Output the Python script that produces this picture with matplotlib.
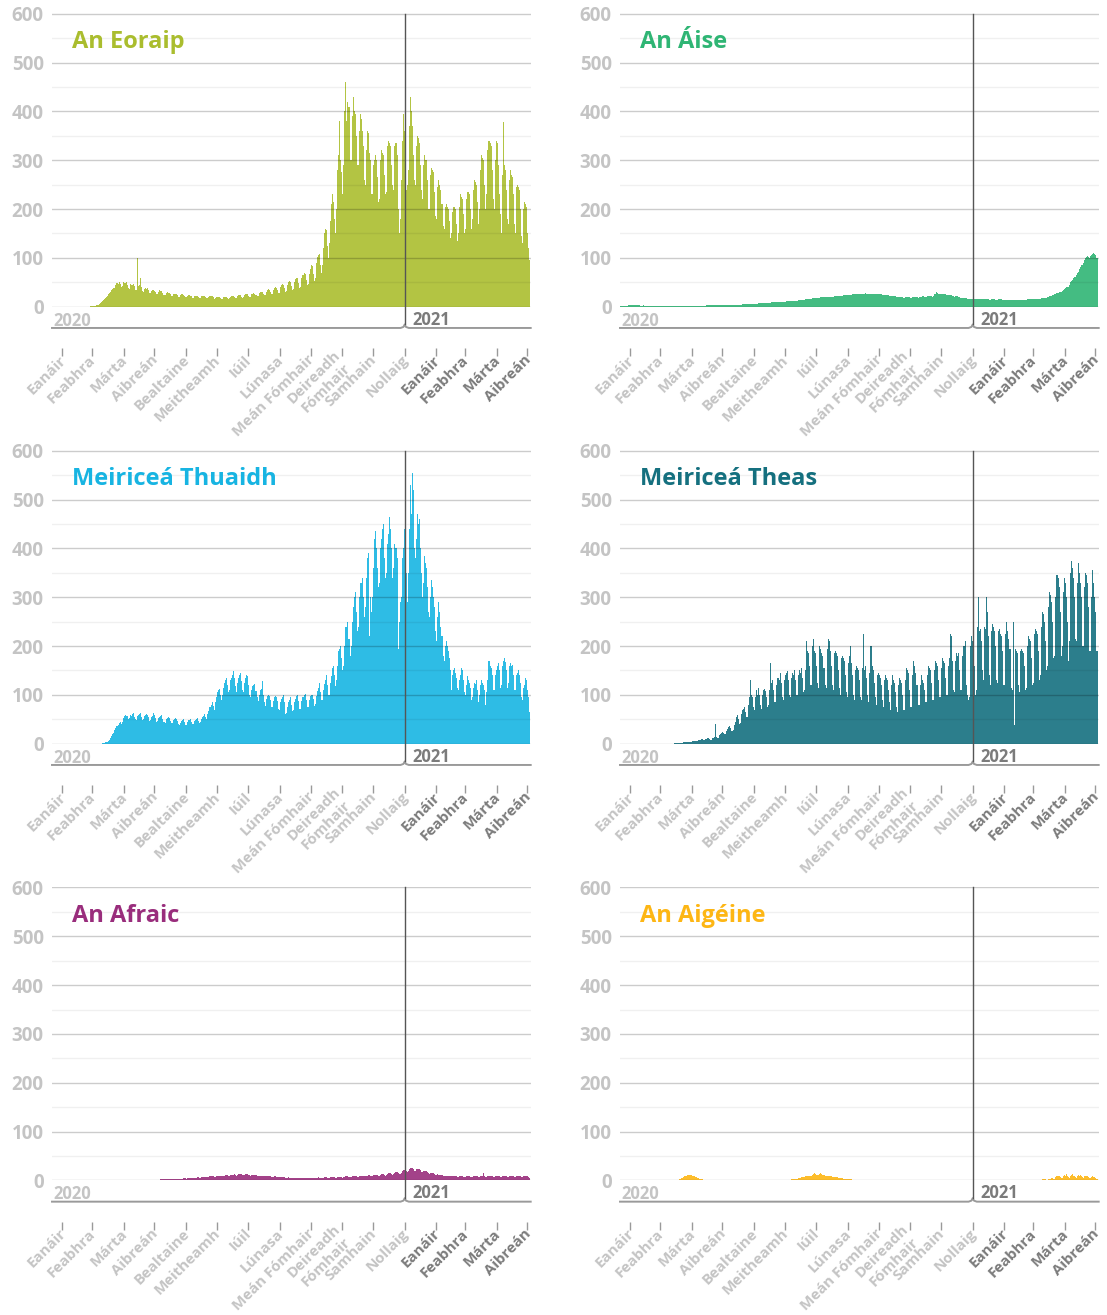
import numpy as np
import matplotlib
matplotlib.use('Agg')
import matplotlib.pyplot as plt
from matplotlib.colors import to_rgb

plt.rcParams['font.family'] = ['Open Sans', 'DejaVu Sans']

# daily values from Mon 20 Jan 2020 to Mon 3 May 2021, one row per week (Mon..Sun)
start_date = np.datetime64('2020-01-20')

month_names = ['Eanáir', 'Feabhra', 'Márta', 'Aibreán', 'Bealtaine', 'Meitheamh',
               'Iúil', 'Lúnasa', 'Meán Fómhair', 'Deireadh\nFómhair', 'Samhain',
               'Nollaig', 'Eanáir', 'Feabhra', 'Márta', 'Aibreán']
y_ticks = [0, 100, 200, 300, 400, 500, 600]

titles = ['An Eoraip', 'An Áise', 'Meiriceá Thuaidh', 'Meiriceá Theas',
          'An Afraic', 'An Aigéine']
colours = ['#aabd2e', '#2fb574', '#17b4e2', '#15707f', '#992d7c', '#fdb614']

europe = [
    0, 0, 0, 0, 0, 0, 0,
    0, 0, 0, 0, 0, 0, 0,
    0, 0, 0, 0, 0, 0, 0,
    0, 0, 0, 0, 0, 0, 0,
    0, 0, 0, 0, 0, 0, 0,
    0, 0, 0, 0, 1, 1, 1,
    1, 2, 2, 3, 4, 4, 5,
    7, 9, 11, 13, 16, 18, 20,
    22, 25, 28, 30, 34, 36, 38,
    38, 45, 48, 47, 50, 46, 40,
    42, 50, 49, 48, 51, 45, 38,
    36, 46, 45, 44, 47, 42, 34,
    34, 100, 42, 44, 58, 40, 32,
    30, 36, 38, 37, 38, 34, 28,
    28, 33, 35, 34, 33, 30, 26,
    26, 31, 34, 33, 32, 29, 24,
    24, 28, 30, 29, 29, 26, 22,
    22, 26, 27, 26, 26, 24, 20,
    20, 24, 25, 25, 24, 22, 19,
    19, 22, 23, 23, 22, 21, 18,
    18, 21, 22, 22, 22, 20, 17,
    18, 21, 22, 21, 21, 19, 17,
    17, 20, 21, 21, 21, 19, 16,
    17, 19, 20, 20, 20, 18, 16,
    16, 19, 20, 20, 20, 18, 16,
    17, 20, 21, 21, 21, 19, 17,
    18, 21, 23, 23, 23, 20, 18,
    19, 23, 25, 25, 25, 22, 19,
    20, 25, 27, 28, 27, 24, 21,
    22, 28, 30, 31, 31, 27, 23,
    24, 31, 34, 36, 35, 31, 26,
    26, 35, 38, 40, 39, 34, 28,
    29, 40, 44, 46, 45, 38, 31,
    32, 45, 50, 52, 51, 43, 35,
    36, 51, 56, 58, 58, 48, 39,
    40, 58, 65, 70, 68, 55, 44,
    46, 68, 78, 85, 84, 66, 52,
    58, 90, 102, 105, 108, 85, 70,
    85, 120, 150, 160, 158, 125, 100,
    130, 175, 210, 230, 215, 180, 150,
    200, 280, 310, 380, 300, 275, 230,
    290, 400, 460, 380, 420, 410, 300,
    300, 390, 430, 400, 395, 350, 290,
    290, 360, 395, 385, 360, 330, 260,
    250, 320, 360, 355, 315, 300, 230,
    230, 290, 300, 310, 300, 265, 215,
    220, 300, 320, 315, 310, 270, 230,
    235, 330, 340, 335, 330, 290, 250,
    240, 330, 335, 310, 200, 150, 180,
    260, 340, 395, 360, 300, 240, 250,
    280, 370, 430, 400, 370, 310, 260,
    250, 330, 350, 345, 335, 290, 240,
    220, 290, 310, 300, 300, 260, 200,
    200, 270, 285, 280, 275, 235, 185,
    180, 245, 260, 250, 240, 210, 165,
    160, 205, 210, 205, 200, 175, 140,
    150, 195, 205, 205, 200, 170, 135,
    150, 205, 230, 225, 220, 190, 150,
    160, 220, 235, 235, 230, 200, 160,
    180, 240, 260, 255, 250, 215, 170,
    200, 280, 310, 305, 300, 250, 200,
    230, 320, 340, 335, 330, 280, 220,
    200, 300, 340, 335, 290, 230, 190,
    150, 270, 378, 290, 280, 240, 180,
    170, 260, 280, 270, 265, 230, 170,
    150, 245, 250, 245, 240, 200, 145,
    130, 200, 215, 210, 205, 150, 120,
    95,
]

asia = [
    0, 0, 1, 1, 1, 1, 2,
    2, 2, 2, 3, 3, 3, 3,
    3, 3, 4, 4, 3, 3, 3,
    2, 2, 2, 4, 2, 2, 2,
    2, 2, 1, 1, 1, 1, 1,
    1, 1, 1, 1, 1, 1, 1,
    1, 1, 1, 1, 1, 1, 1,
    1, 1, 1, 1, 1, 1, 1,
    1, 1, 1, 1, 1, 1, 1,
    1, 1, 2, 2, 2, 2, 2,
    2, 2, 2, 2, 2, 2, 2,
    2, 2, 2, 2, 2, 2, 2,
    2, 2, 3, 3, 3, 3, 3,
    3, 3, 3, 3, 3, 3, 3,
    3, 3, 3, 3, 3, 3, 3,
    3, 3, 3, 3, 4, 4, 4,
    4, 4, 4, 4, 4, 4, 4,
    4, 4, 5, 5, 5, 5, 5,
    5, 5, 5, 5, 6, 6, 6,
    6, 6, 6, 6, 7, 7, 7,
    7, 7, 7, 8, 8, 8, 8,
    8, 8, 8, 9, 9, 9, 9,
    9, 9, 10, 10, 10, 10, 10,
    10, 10, 10, 11, 11, 11, 11,
    11, 11, 12, 12, 12, 12, 12,
    12, 13, 13, 14, 14, 14, 14,
    14, 15, 15, 16, 16, 16, 16,
    16, 17, 17, 18, 18, 18, 18,
    18, 18, 19, 19, 19, 19, 19,
    19, 19, 20, 20, 20, 20, 20,
    20, 21, 21, 21, 21, 21, 21,
    21, 22, 22, 23, 23, 23, 23,
    23, 23, 24, 24, 24, 25, 25,
    25, 25, 26, 26, 26, 26, 26,
    26, 27, 27, 27, 28, 27, 27,
    26, 27, 27, 27, 27, 26, 26,
    25, 26, 26, 26, 26, 25, 24,
    23, 24, 24, 24, 24, 23, 22,
    21, 22, 22, 22, 22, 21, 20,
    19, 20, 20, 20, 20, 19, 18,
    18, 19, 19, 19, 19, 19, 18,
    18, 19, 20, 20, 20, 19, 18,
    19, 20, 20, 21, 21, 20, 19,
    19, 21, 21, 22, 22, 21, 20,
    21, 25, 26, 30, 28, 27, 26,
    25, 26, 26, 27, 26, 25, 24,
    23, 24, 24, 24, 23, 22, 21,
    20, 21, 21, 21, 20, 19, 18,
    17, 18, 18, 18, 17, 16, 16,
    15, 16, 16, 16, 16, 15, 15,
    15, 16, 16, 16, 16, 15, 15,
    15, 16, 16, 16, 15, 15, 14,
    14, 15, 15, 15, 15, 14, 14,
    14, 15, 15, 15, 15, 14, 14,
    14, 14, 14, 14, 14, 13, 13,
    13, 14, 14, 14, 14, 13, 13,
    13, 14, 14, 14, 14, 14, 14,
    14, 15, 15, 15, 15, 15, 15,
    15, 16, 16, 16, 16, 16, 16,
    16, 17, 17, 18, 18, 18, 18,
    19, 20, 21, 22, 22, 23, 23,
    25, 27, 28, 29, 30, 31, 31,
    33, 35, 37, 38, 40, 41, 41,
    45, 50, 52, 55, 58, 60, 60,
    65, 70, 72, 78, 82, 85, 85,
    90, 95, 100, 102, 103, 102, 100,
    104, 106, 108, 110, 108, 106, 100,
    100,
]

north_america = [
    0, 0, 0, 0, 0, 0, 0,
    0, 0, 0, 0, 0, 0, 0,
    0, 0, 0, 0, 0, 0, 0,
    0, 0, 0, 0, 0, 0, 0,
    0, 0, 0, 0, 0, 0, 0,
    0, 0, 0, 0, 0, 0, 0,
    0, 0, 0, 0, 0, 0, 0,
    0, 0, 1, 1, 2, 3, 3,
    4, 5, 8, 11, 15, 20, 22,
    28, 33, 36, 38, 42, 45, 40,
    44, 52, 56, 58, 57, 56, 50,
    52, 58, 57, 60, 62, 55, 50,
    48, 56, 58, 60, 63, 55, 48,
    50, 57, 58, 60, 58, 55, 47,
    48, 55, 56, 62, 58, 52, 45,
    46, 52, 54, 56, 58, 50, 44,
    42, 50, 52, 54, 52, 47, 42,
    42, 48, 50, 52, 50, 46, 40,
    38, 42, 47, 48, 50, 45, 38,
    38, 44, 48, 48, 50, 45, 40,
    40, 46, 48, 50, 52, 46, 42,
    44, 50, 54, 56, 60, 55, 50,
    60, 68, 75, 80, 85, 78, 70,
    85, 95, 105, 110, 112, 100, 90,
    100, 115, 125, 130, 135, 120, 105,
    110, 130, 135, 140, 148, 135, 118,
    105, 125, 135, 140, 145, 128, 110,
    105, 125, 135, 140, 138, 120, 100,
    95, 110, 118, 120, 122, 108, 95,
    88, 100, 110, 112, 128, 100, 85,
    78, 92, 98, 100, 98, 90, 75,
    75, 88, 95, 98, 96, 88, 72,
    70, 85, 92, 96, 100, 85, 60,
    62, 75, 85, 90, 95, 80, 68,
    70, 85, 92, 98, 100, 88, 72,
    72, 88, 95, 100, 102, 90, 75,
    75, 90, 98, 100, 100, 92, 78,
    82, 98, 108, 115, 125, 105, 90,
    90, 110, 122, 130, 140, 120, 100,
    100, 125, 138, 155, 160, 140, 118,
    130, 160, 190, 195, 200, 175, 150,
    160, 200, 240, 240, 250, 215, 180,
    200, 250, 280, 300, 310, 270, 230,
    240, 300, 330, 330, 340, 300, 260,
    280, 340, 380, 390, 220, 300, 270,
    300, 360, 420, 435, 400, 360, 320,
    330, 400, 420, 440, 450, 380, 340,
    350, 410, 430, 465, 440, 400, 340,
    360, 410, 400, 380, 195, 250, 290,
    300, 380, 400, 440, 450, 350, 290,
    350, 440, 530, 470, 555, 520, 400,
    380, 420, 470, 450, 460, 400, 350,
    300, 330, 385, 370, 360, 320, 270,
    260, 300, 335, 320, 300, 280, 230,
    210, 260, 290, 270, 240, 220, 180,
    170, 200, 210, 200, 190, 175, 150,
    110, 140, 150, 155, 145, 135, 115,
    110, 130, 140, 155, 150, 130, 105,
    100, 120, 138, 130, 125, 115, 90,
    95, 115, 125, 122, 130, 110, 85,
    100, 120, 130, 125, 120, 110, 80,
    105, 130, 170, 160, 155, 140, 110,
    110, 140, 150, 160, 165, 150, 115,
    120, 160, 170, 175, 168, 150, 115,
    125, 160, 165, 160, 162, 140, 110,
    110, 140, 145, 150, 140, 125, 95,
    90, 115, 120, 135, 130, 110, 95,
    65,
]

south_america = [
    0, 0, 0, 0, 0, 0, 0,
    0, 0, 0, 0, 0, 0, 0,
    0, 0, 0, 0, 0, 0, 0,
    0, 0, 0, 0, 0, 0, 0,
    0, 0, 0, 0, 0, 0, 0,
    0, 0, 0, 0, 0, 0, 0,
    0, 0, 0, 0, 0, 0, 0,
    0, 0, 0, 0, 0, 0, 1,
    1, 1, 1, 2, 2, 2, 2,
    2, 3, 3, 3, 3, 4, 3,
    3, 4, 5, 5, 6, 6, 5,
    5, 7, 8, 8, 9, 9, 7,
    7, 9, 10, 11, 11, 10, 8,
    8, 11, 12, 13, 40, 14, 12,
    12, 18, 20, 22, 24, 22, 20,
    20, 26, 30, 34, 36, 32, 26,
    28, 38, 45, 55, 58, 50, 40,
    42, 60, 70, 72, 75, 65, 55,
    55, 80, 95, 130, 100, 95, 75,
    70, 95, 110, 100, 115, 100, 80,
    72, 100, 110, 112, 108, 95, 75,
    80, 110, 165, 125, 130, 110, 85,
    85, 120, 135, 130, 145, 125, 95,
    90, 130, 140, 145, 148, 130, 100,
    95, 135, 145, 140, 150, 130, 100,
    100, 140, 150, 145, 155, 135, 105,
    110, 150, 210, 190, 185, 160, 120,
    120, 200, 215, 190, 185, 160, 125,
    115, 200, 195, 185, 180, 155, 120,
    115, 195, 215, 210, 190, 160, 120,
    110, 185, 190, 185, 180, 150, 115,
    100, 175, 180, 175, 170, 140, 105,
    95, 165, 180, 200, 165, 140, 100,
    90, 150, 160, 155, 150, 130, 95,
    90, 155, 225, 150, 160, 135, 100,
    85, 145, 200, 160, 150, 125, 95,
    80, 140, 145, 140, 135, 120, 90,
    75, 130, 140, 135, 130, 110, 85,
    70, 120, 140, 130, 125, 105, 75,
    65, 120, 135, 130, 125, 100, 70,
    70, 130, 155, 150, 145, 110, 75,
    75, 140, 170, 160, 145, 120, 80,
    80, 120, 140, 130, 125, 110, 85,
    85, 140, 160, 155, 150, 125, 90,
    90, 150, 170, 165, 160, 130, 95,
    95, 155, 175, 170, 165, 135, 100,
    100, 160, 175, 225, 220, 170, 110,
    105, 170, 185, 180, 185, 150, 110,
    110, 180, 200, 210, 120, 100, 90,
    95, 200, 220, 210, 205, 160, 100,
    110, 240, 300, 230, 235, 210, 150,
    130, 240, 235, 300, 270, 220, 140,
    120, 230, 245, 240, 230, 200, 130,
    125, 230, 235, 225, 220, 190, 120,
    120, 225, 250, 230, 215, 195, 115,
    110, 250, 38, 195, 190, 185, 120,
    105, 190, 195, 190, 185, 160, 110,
    115, 200, 220, 215, 210, 175, 120,
    125, 225, 235, 230, 225, 190, 130,
    140, 240, 270, 265, 250, 210, 150,
    160, 280, 310, 305, 290, 250, 175,
    180, 300, 345, 340, 320, 270, 180,
    200, 310, 340, 330, 300, 250, 170,
    210, 350, 375, 360, 340, 300, 215,
    210, 330, 370, 350, 330, 300, 200,
    200, 320, 350, 345, 330, 280, 190,
    190, 300, 355, 330, 300, 270, 190,
    190,
]

africa = [
    0, 0, 0, 0, 0, 0, 0,
    0, 0, 0, 0, 0, 0, 0,
    0, 0, 0, 0, 0, 0, 0,
    0, 0, 0, 0, 0, 0, 0,
    0, 0, 0, 0, 0, 0, 0,
    0, 0, 0, 0, 0, 0, 0,
    0, 0, 0, 0, 0, 0, 0,
    0, 0, 0, 0, 0, 0, 0,
    0, 0, 0, 0, 0, 0, 0,
    0, 0, 0, 0, 0, 0, 0,
    0, 0, 0, 0, 1, 1, 1,
    1, 1, 1, 1, 1, 1, 1,
    1, 1, 1, 1, 1, 1, 1,
    1, 1, 1, 1, 1, 1, 1,
    1, 1, 1, 1, 1, 1, 1,
    1, 1, 1, 2, 2, 2, 2,
    2, 2, 2, 2, 2, 2, 2,
    2, 2, 3, 3, 3, 3, 3,
    3, 3, 3, 3, 4, 4, 4,
    3, 4, 4, 4, 4, 5, 5,
    4, 5, 5, 5, 6, 6, 5,
    5, 6, 6, 7, 7, 7, 6,
    6, 7, 8, 8, 8, 8, 7,
    7, 8, 9, 9, 9, 10, 9,
    9, 10, 10, 11, 11, 11, 10,
    10, 11, 12, 12, 12, 13, 11,
    10, 12, 13, 13, 13, 13, 12,
    11, 12, 13, 13, 13, 12, 11,
    10, 11, 12, 11, 11, 11, 10,
    9, 10, 10, 10, 10, 9, 8,
    8, 8, 9, 9, 8, 8, 7,
    7, 7, 8, 8, 7, 7, 6,
    6, 6, 7, 6, 6, 6, 5,
    5, 5, 6, 5, 5, 5, 4,
    4, 5, 5, 5, 5, 4, 4,
    4, 4, 5, 5, 5, 4, 4,
    4, 5, 5, 5, 5, 4, 4,
    4, 5, 5, 6, 5, 5, 4,
    4, 5, 6, 6, 6, 5, 4,
    5, 6, 6, 7, 6, 6, 5,
    5, 6, 7, 7, 7, 6, 5,
    6, 7, 8, 8, 8, 7, 6,
    6, 8, 8, 9, 9, 8, 7,
    7, 9, 9, 10, 10, 9, 8,
    8, 10, 10, 11, 11, 10, 8,
    9, 11, 12, 12, 12, 11, 9,
    10, 12, 13, 13, 13, 12, 10,
    11, 14, 15, 15, 15, 14, 12,
    13, 16, 17, 18, 15, 14, 13,
    15, 19, 21, 22, 20, 19, 17,
    19, 23, 25, 26, 25, 23, 20,
    20, 24, 24, 23, 23, 21, 18,
    17, 20, 20, 19, 19, 17, 15,
    14, 16, 16, 15, 15, 14, 12,
    11, 13, 12, 12, 12, 11, 9,
    9, 10, 10, 10, 9, 9, 8,
    8, 9, 9, 9, 8, 8, 7,
    7, 8, 8, 8, 8, 7, 6,
    7, 8, 8, 8, 8, 7, 6,
    7, 8, 8, 9, 8, 8, 6,
    7, 8, 9, 9, 15, 8, 7,
    7, 9, 9, 9, 9, 8, 7,
    7, 8, 9, 9, 8, 8, 6,
    7, 8, 9, 9, 9, 8, 7,
    7, 9, 9, 9, 9, 8, 7,
    7, 8, 9, 9, 9, 8, 7,
    7, 8, 9, 10, 9, 8, 6,
    5,
]

oceania = [
    0, 0, 0, 0, 0, 0, 0,
    0, 0, 0, 0, 0, 0, 0,
    0, 0, 0, 0, 0, 0, 0,
    0, 0, 0, 0, 0, 0, 0,
    0, 0, 0, 0, 0, 0, 0,
    0, 0, 0, 0, 0, 0, 0,
    0, 0, 0, 0, 0, 0, 0,
    0, 0, 0, 0, 0, 0, 0,
    0, 0, 1, 1, 2, 3, 4,
    5, 7, 9, 10, 11, 12, 12,
    12, 11, 10, 9, 8, 7, 6,
    5, 4, 3, 3, 2, 2, 1,
    1, 1, 1, 0, 0, 0, 0,
    0, 0, 0, 0, 0, 0, 0,
    0, 0, 0, 0, 0, 0, 0,
    0, 0, 0, 0, 0, 0, 0,
    0, 0, 0, 0, 0, 0, 0,
    0, 0, 0, 0, 0, 0, 0,
    0, 0, 0, 0, 0, 0, 0,
    0, 0, 0, 0, 0, 0, 0,
    0, 0, 0, 0, 0, 0, 0,
    0, 0, 0, 0, 0, 0, 0,
    0, 0, 0, 0, 0, 0, 0,
    0, 0, 1, 1, 1, 1, 1,
    1, 2, 2, 2, 3, 3, 3,
    3, 4, 5, 5, 6, 6, 6,
    7, 8, 9, 9, 10, 10, 9,
    10, 12, 13, 15, 14, 12, 11,
    11, 14, 15, 13, 12, 11, 10,
    9, 10, 10, 9, 9, 8, 7,
    6, 7, 7, 6, 6, 5, 5,
    4, 4, 4, 3, 3, 3, 2,
    2, 2, 2, 2, 2, 1, 1,
    1, 1, 1, 1, 1, 1, 1,
    1, 1, 0, 0, 0, 0, 0,
    0, 0, 0, 0, 0, 0, 0,
    0, 0, 0, 0, 0, 0, 0,
    0, 0, 0, 0, 0, 0, 0,
    0, 0, 0, 0, 0, 0, 0,
    0, 0, 0, 0, 0, 0, 0,
    0, 0, 0, 0, 0, 0, 0,
    0, 0, 0, 0, 0, 0, 0,
    0, 0, 0, 0, 0, 0, 0,
    0, 0, 0, 0, 0, 0, 0,
    0, 0, 0, 0, 0, 0, 0,
    0, 0, 0, 0, 0, 0, 0,
    0, 0, 0, 0, 0, 0, 0,
    0, 0, 0, 0, 0, 0, 0,
    0, 0, 0, 0, 0, 0, 0,
    0, 0, 0, 0, 0, 0, 0,
    0, 0, 0, 0, 0, 0, 0,
    0, 0, 0, 0, 0, 0, 0,
    0, 0, 0, 0, 0, 0, 0,
    0, 0, 0, 0, 0, 0, 0,
    0, 0, 0, 0, 0, 0, 0,
    0, 0, 0, 0, 0, 0, 0,
    0, 0, 0, 0, 0, 0, 0,
    0, 0, 0, 0, 0, 0, 0,
    0, 1, 1, 1, 1, 1, 1,
    1, 1, 2, 2, 2, 2, 1,
    1, 2, 3, 3, 5, 4, 3,
    3, 6, 8, 10, 9, 7, 5,
    5, 9, 12, 10, 14, 8, 6,
    5, 10, 11, 13, 9, 8, 6,
    5, 9, 12, 10, 11, 8, 6,
    5, 8, 10, 9, 10, 7, 5,
    4, 6, 8, 7, 6, 5, 3,
    3,
]

series = [europe, asia, north_america, south_america, africa, oceania]

LIGHT = '#c4c4c4'
DARK = '#7b7b7b'

# month-end ticks (boundary between last day of month and the next)
month_starts = np.arange(np.datetime64('2020-02'), np.datetime64('2021-06'), dtype='datetime64[M]')
tick_pos = (month_starts.astype('datetime64[D]') - start_date).astype(int) - 0.5
new_year = (np.datetime64('2021-01-01') - start_date).astype(int) - 0.5

fig = plt.figure(figsize=(11.07, 13.15), dpi=100)
W, H = 1107, 1315
col_left = [52, 620]
row_top = [13.3, 450.3, 887]
ax_w, ax_h = 478.7, 293.4
px_per_unit = ax_h / 600


def bar_colour(colour, a=0.9):
    # the bars are a lighter tint of the title colour
    return tuple(a * v + (1 - a) for v in to_rgb(colour))


def draw_panel(ax, values, title, colour):
    days = np.arange(len(values))
    ax.bar(days, values, width=1.0, color=bar_colour(colour), linewidth=0,
           antialiased=False, zorder=1)
    ax.set_xlim(1.4, 469.8)
    ax.set_ylim(0, 601)

    for s in ax.spines.values():
        s.set_visible(False)

    ax.set_yticks(y_ticks)
    ax.set_yticklabels([str(v) for v in y_ticks], fontsize=13.5, fontweight='bold', color=LIGHT)
    ax.set_yticks(np.arange(50, 600, 100), minor=True)
    ax.tick_params(axis='y', which='both', length=0, pad=6)
    ax.set_axisbelow(False)
    ax.grid(axis='y', which='major', color='k', alpha=0.2, linewidth=1)
    ax.grid(axis='y', which='minor', color='k', alpha=0.06, linewidth=1)

    ax.spines['bottom'].set_position(('outward', 30))
    ax.set_xticks(tick_pos)
    ax.set_xticklabels(month_names, rotation=45, ha='right', va='center_baseline',
                       rotation_mode='anchor', fontsize=10.8, fontweight='bold',
                       multialignment='center')
    for i, lbl in enumerate(ax.get_xticklabels()):
        lbl.set_color(LIGHT if i < 12 else DARK)
    ax.tick_params(axis='x', length=6, width=1, color='#9a9a9a', pad=0)

    # year bracket
    y_br = -21.3 / px_per_unit
    bump = 3.5 / px_per_unit
    x0, x1 = ax.get_xlim()
    bx = [x0, new_year - 4, new_year - 1.2, new_year, new_year + 1.2, new_year + 4, x1]
    by = [y_br, y_br, y_br + bump * 0.3, y_br + bump, y_br + bump * 0.3, y_br, y_br]
    ax.plot(bx, by, color='#9a9a9a', linewidth=1.4, clip_on=False, zorder=3)

    ax.plot([new_year, new_year], [600, y_br + bump], color='#555555', linewidth=1,
            clip_on=False, zorder=4)

    ax.annotate('2020', xy=(0, 0), xycoords='axes fraction', xytext=(1, -14),
                textcoords='offset pixels', ha='left', va='center', fontsize=12,
                fontweight='bold', color=LIGHT)
    ax.annotate('2021', xy=(new_year, 0), xycoords=('data', 'axes fraction'),
                xytext=(8, -13), textcoords='offset pixels', ha='left', va='center',
                fontsize=12, fontweight='bold', color=DARK)

    ax.text(20 / ax_w, 1 - 35 / ax_h, title, transform=ax.transAxes, ha='left',
            va='baseline', fontsize=17, fontweight='bold', color=colour)


for k, (values, title, colour) in enumerate(zip(series, titles, colours)):
    r, c = divmod(k, 2)
    left = col_left[c] / W
    bottom = 1 - (row_top[r] + ax_h) / H
    ax = fig.add_axes([left, bottom, ax_w / W, ax_h / H])
    draw_panel(ax, values, title, colour)

fig.savefig('out.png', dpi=100)
